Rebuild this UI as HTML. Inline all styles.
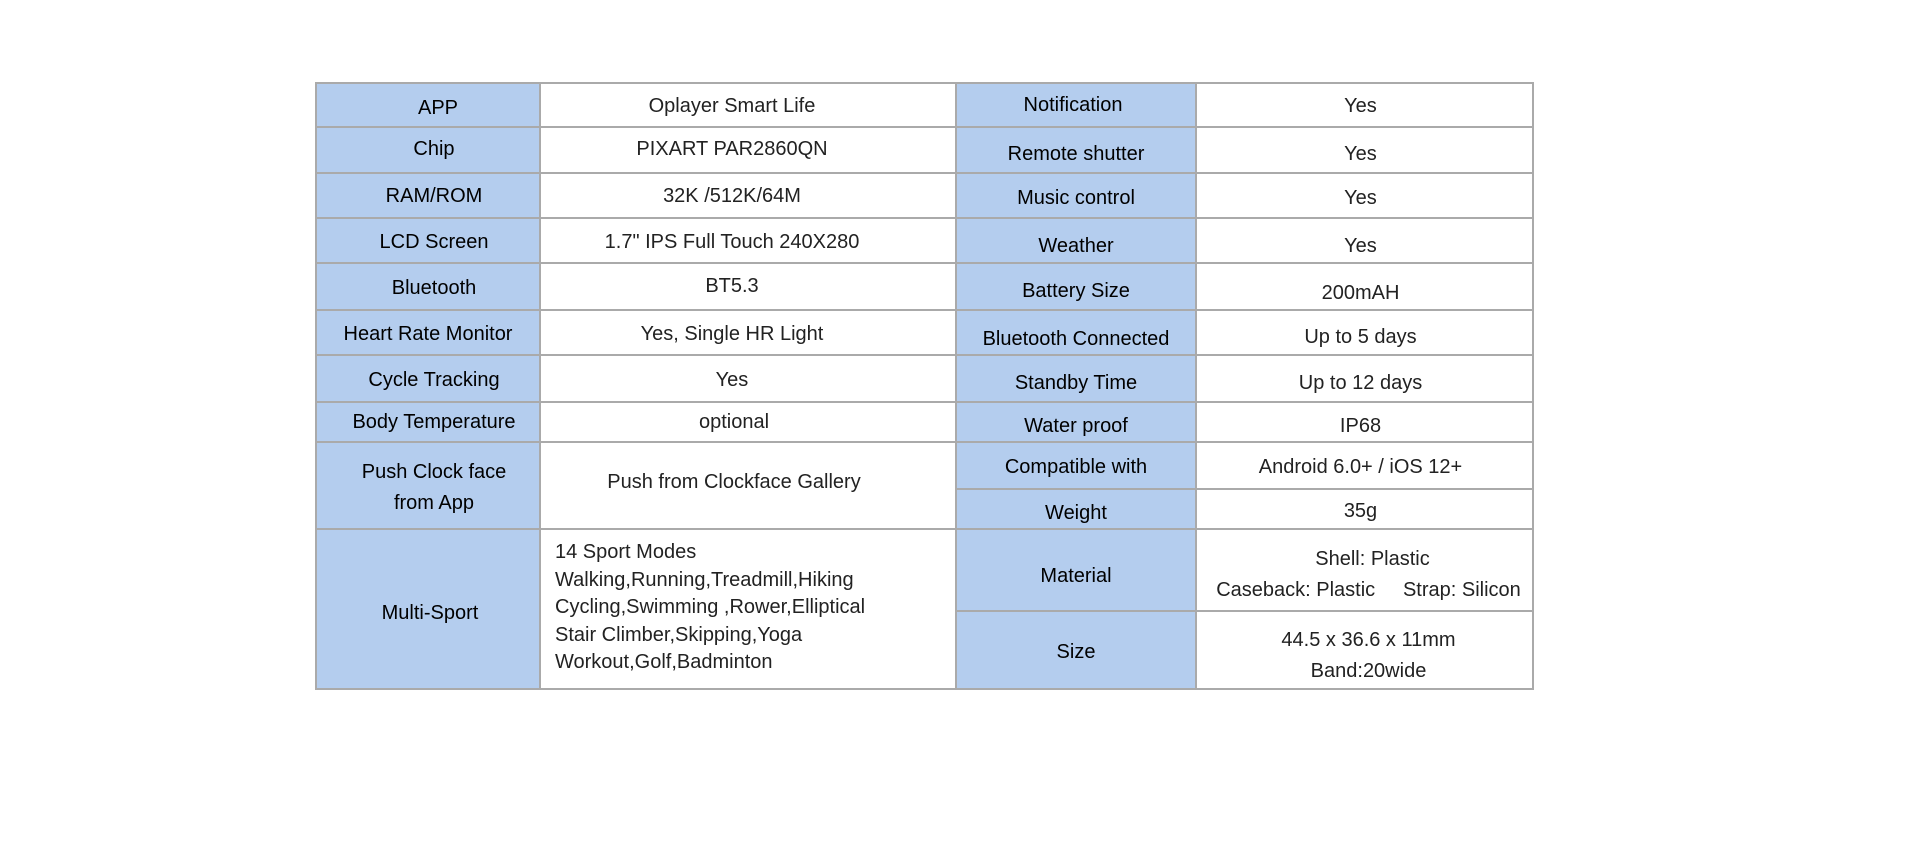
<!DOCTYPE html>
<html><head><meta charset="utf-8"><style>
body{margin:0;width:1920px;height:850px;background:#fff;position:relative;overflow:hidden;font-family:"Liberation Sans",sans-serif;}
.c{position:absolute;box-sizing:border-box;}
.b{background:#b4cdee;}
.h{position:absolute;background:#aaa;height:2px;}
.v{position:absolute;background:#aaa;width:2px;}
.t{position:absolute;height:28px;line-height:28px;text-align:center;font-size:20px;white-space:nowrap;}
.L{color:#000;}
.V{color:#222;}
.t,.V{transform:translateY(2px);}
</style></head><body>
<div class="c b" style="left:316px;top:83px;width:224px;height:606px"></div>
<div class="c b" style="left:956px;top:83px;width:240px;height:606px"></div>

<div class="v" style="left:315px;top:82px;height:608px"></div>
<div class="v" style="left:539px;top:82px;height:608px"></div>
<div class="v" style="left:955px;top:82px;height:608px"></div>
<div class="v" style="left:1195px;top:82px;height:608px"></div>
<div class="v" style="left:1532px;top:82px;height:608px"></div>
<div class="h" style="left:315px;top:82px;width:1219px"></div>
<div class="h" style="left:315px;top:688px;width:1219px"></div>
<div class="h" style="left:315px;top:126px;width:642px"></div>
<div class="h" style="left:315px;top:172px;width:642px"></div>
<div class="h" style="left:315px;top:217px;width:642px"></div>
<div class="h" style="left:315px;top:262px;width:642px"></div>
<div class="h" style="left:315px;top:309px;width:642px"></div>
<div class="h" style="left:315px;top:354px;width:642px"></div>
<div class="h" style="left:315px;top:401px;width:642px"></div>
<div class="h" style="left:315px;top:441px;width:642px"></div>
<div class="h" style="left:315px;top:528px;width:642px"></div>
<div class="h" style="left:955px;top:126px;width:579px"></div>
<div class="h" style="left:955px;top:172px;width:579px"></div>
<div class="h" style="left:955px;top:217px;width:579px"></div>
<div class="h" style="left:955px;top:262px;width:579px"></div>
<div class="h" style="left:955px;top:309px;width:579px"></div>
<div class="h" style="left:955px;top:354px;width:579px"></div>
<div class="h" style="left:955px;top:401px;width:579px"></div>
<div class="h" style="left:955px;top:441px;width:579px"></div>
<div class="h" style="left:955px;top:488px;width:579px"></div>
<div class="h" style="left:955px;top:528px;width:579px"></div>
<div class="h" style="left:955px;top:610px;width:579px"></div>

<div class="t L" style="left:326px;width:224px;top:92px">APP</div>
<div class="t L" style="left:322px;width:224px;top:133px">Chip</div>
<div class="t L" style="left:322px;width:224px;top:180px">RAM/ROM</div>
<div class="t L" style="left:322px;width:224px;top:226px">LCD Screen</div>
<div class="t L" style="left:322px;width:224px;top:272px">Bluetooth</div>
<div class="t L" style="left:316px;width:224px;top:318px">Heart Rate Monitor</div>
<div class="t L" style="left:322px;width:224px;top:364px">Cycle Tracking</div>
<div class="t L" style="left:322px;width:224px;top:406px">Body Temperature</div>
<div class="t L" style="left:322px;width:224px;top:456px">Push Clock face</div>
<div class="t L" style="left:322px;width:224px;top:487px">from App</div>
<div class="t L" style="left:318px;width:224px;top:597px">Multi-Sport</div>

<div class="t V" style="left:524px;width:416px;top:90px">Oplayer Smart Life</div>
<div class="t V" style="left:524px;width:416px;top:133px">PIXART PAR2860QN</div>
<div class="t V" style="left:524px;width:416px;top:180px">32K /512K/64M</div>
<div class="t V" style="left:524px;width:416px;top:226px">1.7" IPS Full Touch 240X280</div>
<div class="t V" style="left:524px;width:416px;top:270px">BT5.3</div>
<div class="t V" style="left:524px;width:416px;top:318px">Yes, Single HR Light</div>
<div class="t V" style="left:524px;width:416px;top:364px">Yes</div>
<div class="t V" style="left:526px;width:416px;top:406px">optional</div>
<div class="t V" style="left:526px;width:416px;top:466px">Push from Clockface Gallery</div>
<div class="V" style="position:absolute;left:555px;top:537px;font-size:20px;line-height:27.6px;text-align:left">14 Sport Modes<br>Walking,Running,Treadmill,Hiking<br>Cycling,Swimming ,Rower,Elliptical<br>Stair Climber,Skipping,Yoga<br>Workout,Golf,Badminton</div>

<div class="t L" style="left:953px;width:240px;top:89px">Notification</div>
<div class="t L" style="left:956px;width:240px;top:138px">Remote shutter</div>
<div class="t L" style="left:956px;width:240px;top:182px">Music control</div>
<div class="t L" style="left:956px;width:240px;top:230px">Weather</div>
<div class="t L" style="left:956px;width:240px;top:275px">Battery Size</div>
<div class="t L" style="left:956px;width:240px;top:323px">Bluetooth Connected</div>
<div class="t L" style="left:956px;width:240px;top:367px">Standby Time</div>
<div class="t L" style="left:956px;width:240px;top:410px">Water proof</div>
<div class="t L" style="left:956px;width:240px;top:451px">Compatible with</div>
<div class="t L" style="left:956px;width:240px;top:497px">Weight</div>
<div class="t L" style="left:956px;width:240px;top:560px">Material</div>
<div class="t L" style="left:956px;width:240px;top:636px">Size</div>

<div class="t V" style="left:1192px;width:337px;top:90px">Yes</div>
<div class="t V" style="left:1192px;width:337px;top:138px">Yes</div>
<div class="t V" style="left:1192px;width:337px;top:182px">Yes</div>
<div class="t V" style="left:1192px;width:337px;top:230px">Yes</div>
<div class="t V" style="left:1192px;width:337px;top:277px">200mAH</div>
<div class="t V" style="left:1192px;width:337px;top:321px">Up to 5 days</div>
<div class="t V" style="left:1192px;width:337px;top:367px">Up to 12 days</div>
<div class="t V" style="left:1192px;width:337px;top:410px">IP68</div>
<div class="t V" style="left:1192px;width:337px;top:451px">Android 6.0+ / iOS 12+</div>
<div class="t V" style="left:1192px;width:337px;top:495px">35g</div>
<div class="t V" style="left:1204px;width:337px;top:543px">Shell: Plastic</div>
<div class="t V" style="left:1200px;width:337px;top:574px">Caseback: Plastic &nbsp;&nbsp;&nbsp; Strap: Silicon</div>
<div class="t V" style="left:1200px;width:337px;top:624px">44.5 x 36.6 x 11mm</div>
<div class="t V" style="left:1200px;width:337px;top:655px">Band:20wide</div>
</body></html>
